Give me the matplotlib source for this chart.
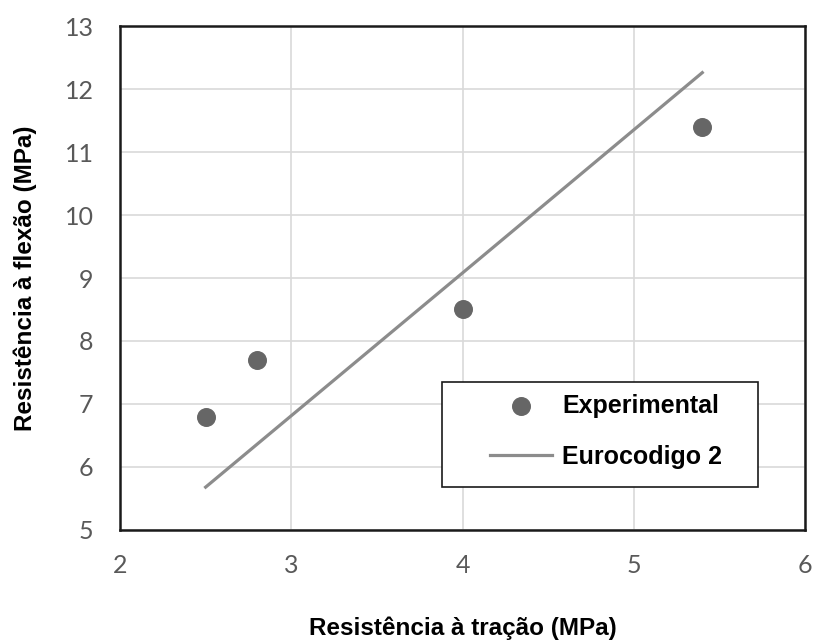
import matplotlib.pyplot as plt
from matplotlib.patches import Rectangle

# ensaios: resistencia a tracao x resistencia a flexao (MPa)
tracao_exp = [2.5, 2.8, 4.0, 5.4]
flexao_exp = [6.8, 7.7, 8.5, 11.4]

# previsao Eurocodigo 2
tracao_ec2 = [2.5, 2.8, 4.0, 5.4]
flexao_ec2 = [5.68, 6.36, 9.08, 12.26]

x_ticks = [2, 3, 4, 5, 6]
y_ticks = [5, 6, 7, 8, 9, 10, 11, 12, 13]

fig = plt.figure(figsize=(8.14, 6.41), dpi=100)
ax = fig.add_axes([0.1474, 0.1732, 0.8416, 0.7862])

ax.scatter(tracao_exp, flexao_exp, s=160, color="#666666", zorder=3, label="Experimental")
ax.plot(tracao_ec2, flexao_ec2, color="#8c8c8c", lw=2.3, zorder=2, label="Eurocodigo 2")

ax.set_xlim(2, 6)
ax.set_ylim(5, 13)
ax.set_xticks(x_ticks)
ax.set_yticks(y_ticks)
ax.grid(True, color="#d9d9d9", lw=1.2)
ax.set_axisbelow(True)
for s in ax.spines.values():
    s.set_linewidth(1.8)
    s.set_color("#1a1a1a")
ax.tick_params(length=0, labelsize=18, labelcolor="#595959")
ax.tick_params(axis="x", pad=17)
ax.tick_params(axis="y", pad=19)
for lab in ax.get_xticklabels() + ax.get_yticklabels():
    lab.set_family("Lato")

ax.set_xlabel("Resistência à tração (MPa)", fontsize=17.5, fontweight="bold",
              family="Liberation Sans", labelpad=29)
ax.set_ylabel("Resistência à flexão (MPa)", fontsize=17.5, fontweight="bold",
              family="Liberation Sans", labelpad=20)

# caixa da legenda desenhada a parte, entradas posicionadas dentro dela
ax.add_patch(Rectangle((0.4696, 0.0847), 0.4624, 0.2093, transform=ax.transAxes,
                       facecolor="white", edgecolor="#1a1a1a", lw=1.2, zorder=4))
leg = ax.legend(loc="center left", bbox_to_anchor=(0.540, 0.196), frameon=False,
                prop={"family": "Liberation Sans", "weight": "bold", "size": 18},
                handlelength=2.5, handletextpad=0.4, labelspacing=1.08,
                borderpad=0, borderaxespad=0, scatterpoints=1)
leg.set_zorder(5)

fig.savefig("out.png", dpi=100)
